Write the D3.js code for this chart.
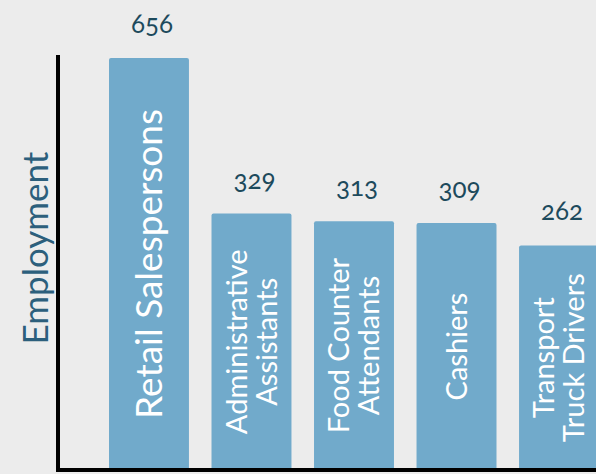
<!DOCTYPE html>
<html>
<head>
<meta charset="utf-8">
<script src="https://cdn.jsdelivr.net/npm/d3@7"></script>
<style>
  html, body { margin: 0; padding: 0; background: #ececec; }
  svg { display: block; }
  text { font-family: Lato, "Open Sans", sans-serif; }
</style>
</head>
<body>
<svg id="chart" width="596" height="474"></svg>
<script>
const categories = ["Retail Salespersons", "Administrative Assistants", "Food Counter Attendants", "Cashiers", "Transport Truck Drivers"];
const labelLines = [["Retail Salespersons"], ["Administrative", "Assistants"], ["Food Counter", "Attendants"], ["Cashiers"], ["Transport", "Truck Drivers"]];
const values = [656, 329, 313, 309, 262];
const yTitle = "Employment";

const svg = d3.select("#chart");
const W = 596, H = 474;
svg.append("rect").attr("width", W).attr("height", H).attr("fill", "#ececec");

const baseY = 470;
const x = d3.scaleBand().domain(categories).range([109, 599]).paddingInner(0.22).paddingOuter(0);
const y = d3.scaleLinear().domain([-210, 656]).range([baseY, 58]);

const data = categories.map((c, i) => ({ cat: c, value: values[i], lines: labelLines[i] }));

// bars
svg.selectAll("rect.bar").data(data).enter().append("rect")
  .attr("class", "bar")
  .attr("x", d => x(d.cat))
  .attr("y", d => y(d.value))
  .attr("width", x.bandwidth())
  .attr("height", d => baseY - y(d.value))
  .attr("rx", 2)
  .attr("fill", "#71aacb");

// value labels
svg.selectAll("text.val").data(data).enter().append("text")
  .attr("class", "val")
  .attr("x", d => x(d.cat) + x.bandwidth() / 2 + 3)
  .attr("y", d => y(d.value) - 25)
  .attr("text-anchor", "middle")
  .attr("font-size", 26)
  .style("font-variant-numeric", "oldstyle-nums")
  .attr("fill", "#1d4a5c")
  .text(d => d.value);

// category labels inside bars
const lbl = svg.selectAll("g.lbl").data(data).enter().append("g")
  .attr("class", "lbl")
  .attr("transform", d => `translate(${x(d.cat) + x.bandwidth() / 2},${(y(d.value) + baseY) / 2}) rotate(-90)`);
lbl.each(function(d) {
  const g = d3.select(this);
  const n = d.lines.length;
  const fs = n === 1 && d.lines[0].length > 12 ? 37 : 29;
  d.lines.forEach((line, j) => {
    g.append("text")
      .attr("x", 0)
      .attr("y", (j - (n - 1) / 2) * 30)
      .attr("dy", "0.35em")
      .attr("text-anchor", "middle")
      .attr("font-size", fs)
      .attr("fill", "#ffffff")
      .text(line);
  });
});

// axes lines
svg.append("line").attr("x1", 58).attr("x2", 58).attr("y1", 55).attr("y2", baseY + 2)
  .attr("stroke", "#000").attr("stroke-width", 4);
svg.append("line").attr("x1", 56).attr("x2", W).attr("y1", baseY).attr("y2", baseY)
  .attr("stroke", "#000").attr("stroke-width", 4);

// y title
svg.append("text")
  .attr("transform", `translate(36,248) rotate(-90)`)
  .attr("text-anchor", "middle")
  .attr("dy", "0.35em")
  .attr("font-size", 35)
  .attr("fill", "#2c5f7c")
  .text(yTitle);
</script>
</body>
</html>
